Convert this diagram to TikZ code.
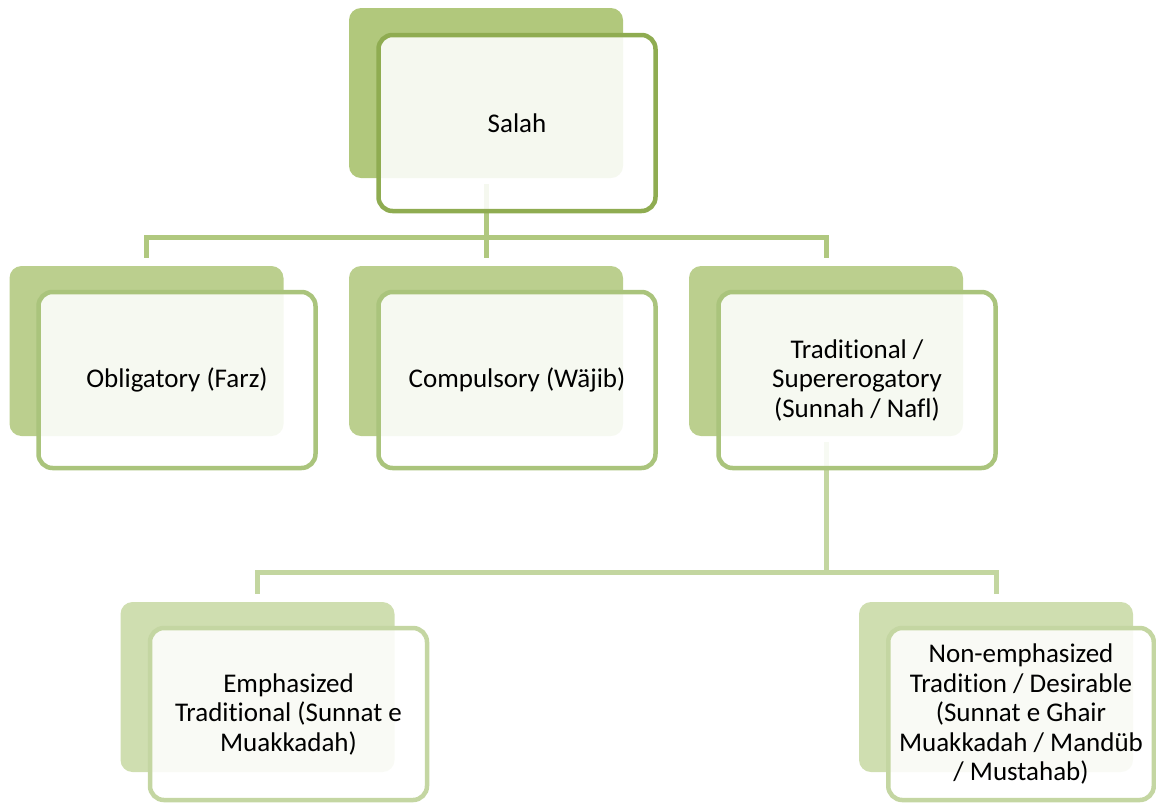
\documentclass[tikz,border=0pt]{standalone}
\usepackage{fontspec}
\setmainfont{Carlito}[Ligatures=CommonOff]
\definecolor{lAback}{HTML}{B1C87C}
\definecolor{lAline}{HTML}{8FAC51}
\definecolor{lBback}{HTML}{BBCF8E}
\definecolor{lBline}{HTML}{AAC47C}
\definecolor{lCback}{HTML}{CFDEB0}
\definecolor{lCline}{HTML}{C4D6A2}
\definecolor{connA}{HTML}{B0C87F}
\definecolor{connB}{HTML}{C3D6A0}
\begin{document}
\begin{tikzpicture}[x=1pt,y=-1pt,
  backbox/.style={rectangle, rounded corners=12pt, minimum width=274pt, minimum height=170pt, inner sep=0pt, fill=#1},
  frontbox/.style={rectangle, rounded corners=14pt, minimum width=277pt, minimum height=176pt, inner sep=0pt, draw=#1, line width=4.5pt, fill=white, fill opacity=0.88, text opacity=1, align=center, font=\fontsize{27}{29.5}\selectfont},
  connone/.style={draw=connA, line width=5pt},
  conntwo/.style={draw=connB, line width=5pt}]
\useasboundingbox (0,0) rectangle (1156,804);
\clip (0,0) rectangle (1156,804);
% back plates
\node[backbox=lAback] (sb) at (486,93) {};
\node[backbox=lBback] (ob) at (146.5,351) {};
\node[backbox=lBback] (cb) at (486,351) {};
\node[backbox=lBback] (tb) at (826,351) {};
\node[backbox=lCback] (eb) at (257.5,687) {};
\node[backbox=lCback] (nb) at (996,687) {};
% connectors
\draw[connone] ([yshift=-6pt]sb.south) -- (sb.south |- 0,237);
\draw[connone] ([yshift=8pt]ob.north) -- (ob.north |- 0,237) -| ([yshift=8pt]tb.north);
\draw[connone] ([yshift=8pt]cb.north) -- (cb.north |- 0,237);
\draw[conntwo] ([yshift=-6pt]tb.south) -- (tb.south |- 0,572);
\draw[conntwo] ([yshift=8pt]eb.north) -- (eb.north |- 0,572) -| ([yshift=8pt]nb.north);
% front boxes
\node[frontbox=lAline] (s) at (517,123) {Salah};
\node[frontbox=lBline] (o) at (177,380) {Obligatory (Farz)};
\node[frontbox=lBline] (c) at (517,380) {Compulsory (Wäjib)};
\node[frontbox=lBline] (t) at (857,380) {Traditional /\\Supererogatory\\(Sunnah / Nafl)};
\node[frontbox=lCline, minimum height=172pt] (e) at (288.5,714) {Emphasized\\Traditional (Sunnat e\\Muakkadah)};
\node[frontbox=lCline, minimum height=172pt, minimum width=265.5pt] (n) at (1021,714) {Non-emphasized\\Tradition / Desirable\\(Sunnat e Ghair\\Muakkadah / Mandüb\\/ Mustahab)};
\end{tikzpicture}
\end{document}
